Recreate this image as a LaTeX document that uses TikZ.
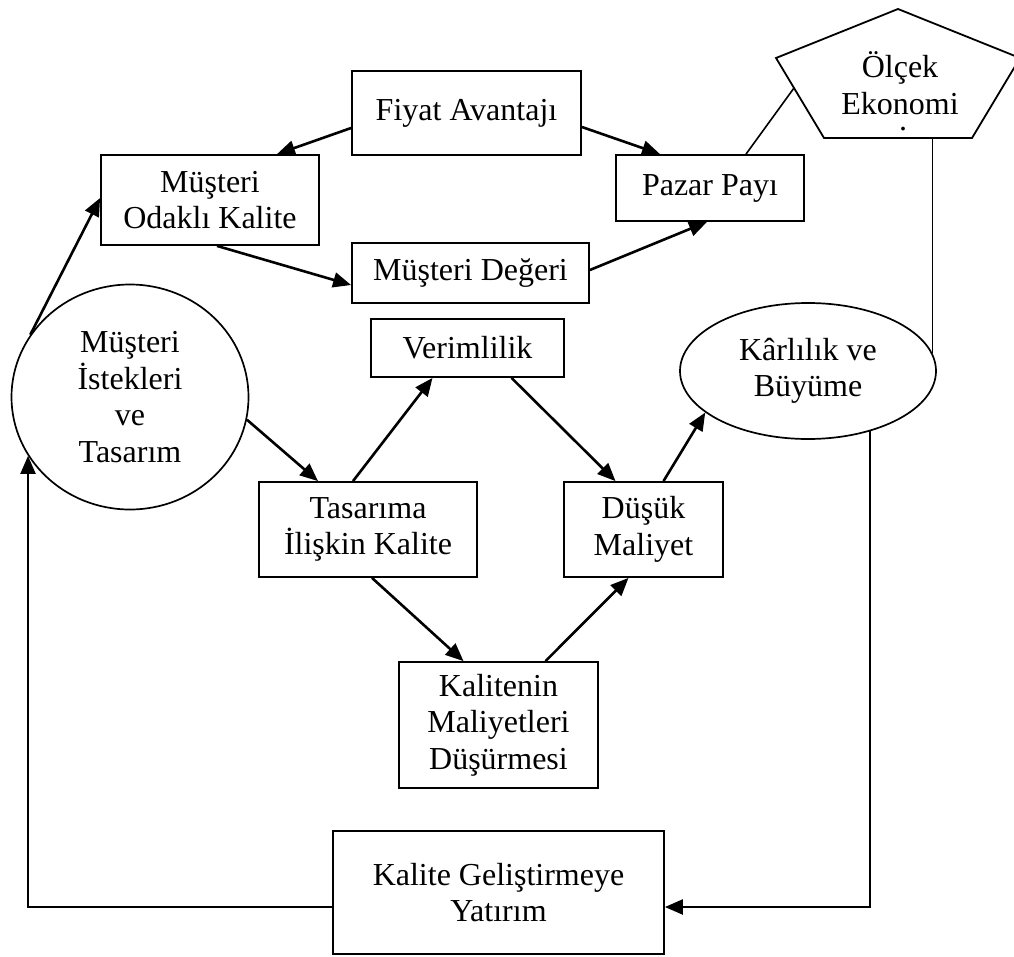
\documentclass[tikz,border=0pt]{standalone}
\usepackage{fontspec}
\setmainfont{Liberation Serif}
\usetikzlibrary{arrows.meta,shapes.geometric,calc}
\begin{document}
\begin{tikzpicture}[x=1pt,y=-1pt,
  every node/.style={font=\fontsize{32pt}{36.5pt}\selectfont, align=center, inner sep=0pt},
  boxnode/.style={draw, line width=1.8pt, rectangle},
  ovalnode/.style={draw, line width=1.7pt, ellipse},
  arr/.style={line width=2.6pt, -{Triangle[length=18pt,width=15pt]}},
  thinline/.style={line width=1.6pt},
  loopline/.style={line width=2.2pt, -{Triangle[length=18pt,width=15pt]}}]
\useasboundingbox (0,0) rectangle (1014,956);
% nodes
\node[boxnode, minimum width=229pt, minimum height=84pt] (fiyat) at (466.5,113) {Fiyat Avantajı};
\node[boxnode, minimum width=218pt, minimum height=90pt] (odakli) at (210,200) {Müşteri\\Odaklı Kalite};
\node[boxnode, minimum width=188pt, minimum height=66pt] (pazar) at (710,188) {Pazar Payı};
\node[boxnode, minimum width=237pt, minimum height=60pt] (deger) at (470.5,273) {Müşteri Değeri};
\node[boxnode, minimum width=193pt, minimum height=58pt] (verim) at (467.5,348) {Verimlilik};
\node[boxnode, minimum width=218pt, minimum height=95pt] (tasarima) at (368,529.5) {Tasarıma\\İlişkin Kalite};
\node[boxnode, minimum width=159pt, minimum height=95pt] (dusuk) at (643.5,529.5) {Düşük\\Maliyet};
\node[boxnode, minimum width=199pt, minimum height=126pt] (kalitenin) at (498.5,725) {Kalitenin\\Maliyetleri\\Düşürmesi};
\node[boxnode, minimum width=331pt, minimum height=123pt] (yatirim) at (498.5,892.5) {Kalite Geliştirmeye\\Yatırım};
\node[ovalnode, minimum width=237pt, minimum height=225pt] (musteri) at (130,397) {Müşteri\\İstekleri\\ve\\Tasarım};
\node[ovalnode, minimum width=256pt, minimum height=136pt] (karlilik) at (808,371) {Kârlılık ve\\Büyüme};
% pentagon
\coordinate (pT) at (898,9);
\coordinate (pUL) at (776,58);
\coordinate (pUR) at (1020,58);
\coordinate (pLL) at (824,138);
\coordinate (pLR) at (972,138);
\draw[line width=1.8pt, line join=miter] (pT) -- (pUR) -- (pLR) -- (pLL) -- (pUL) -- cycle;
\node (olcek) at (900,83) {Ölçek\\Ekonomi};
\node[anchor=base, align=none] (olcekdot) at (903,130) {.};
\coordinate (pentL) at ($(pUL)!0.375!(pLL)$);
% connectors
\draw[arr] ([yshift=-15pt]fiyat.west) -- ([xshift=67pt]odakli.north);
\draw[arr] ([yshift=-14pt]fiyat.east) -- ([xshift=-50pt]pazar.north);
\draw[arr] ([xshift=7pt]odakli.south) -- ([yshift=-12pt]deger.west);
\draw[arr] ([yshift=3pt]deger.east) -- ([xshift=-3pt]pazar.south);
\draw[thinline] ([xshift=36pt]pazar.north) -- (pentL);
\draw[thinline] (karlilik.8 |- pLR) -- (karlilik.8);
\draw[arr] (musteri.148.5) -- ([yshift=2pt]odakli.west);
\draw[arr] (musteri.-11) -- ([xshift=-50pt]tasarima.north);
\draw[arr] ([xshift=-15pt]tasarima.north) -- ([xshift=-35pt]verim.south);
\draw[arr] ([xshift=44pt]verim.south) -- ([xshift=-28pt]dusuk.north);
\draw[arr] ([xshift=20pt]dusuk.north) -- (karlilik.202);
\draw[arr] ([xshift=4pt]tasarima.south) -- ([xshift=-35pt]kalitenin.north);
\draw[arr] ([xshift=47pt]kalitenin.north) -- ([xshift=-15pt]dusuk.south);
\draw[loopline] (karlilik.-44.5) |- ([yshift=-14.5pt]yatirim.east);
\draw[loopline] ([yshift=-14.5pt]yatirim.west) -| (musteri.210);
\end{tikzpicture}
\end{document}
